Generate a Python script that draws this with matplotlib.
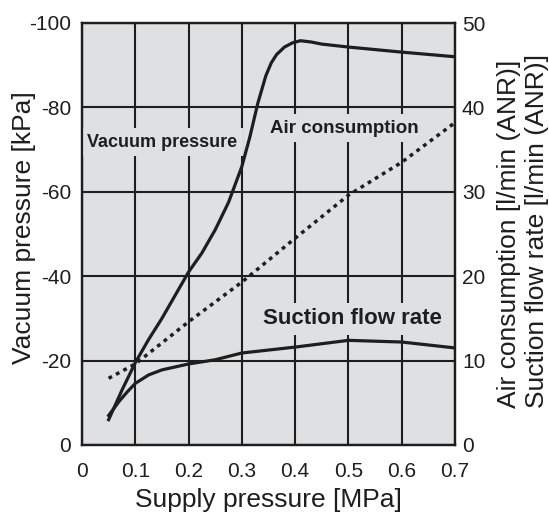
import matplotlib.pyplot as plt

# Supply pressure [MPa] and the three curves
vac_x = [0.05, 0.075, 0.1, 0.125, 0.15, 0.175, 0.2, 0.225, 0.25, 0.275, 0.3,
         0.315, 0.33, 0.345, 0.355, 0.365, 0.38, 0.395, 0.41, 0.43, 0.45, 0.5, 0.6, 0.7]
vac_y = [-6, -13, -19.5, -25, -30, -35.5, -41, -45.5, -51, -57.5, -66,
         -73, -81, -87.5, -90.5, -92.5, -94.3, -95.3, -95.8, -95.5, -95, -94.3, -93.1, -92]

air_x = [0.05, 0.1, 0.2, 0.3, 0.4, 0.5, 0.6, 0.7]
air_y = [7.9, 9.6, 14.6, 19.3, 24.5, 29.6, 33.5, 38.2]

suc_x = [0.05, 0.07, 0.085, 0.1, 0.125, 0.15, 0.2, 0.25, 0.3, 0.4, 0.5, 0.6, 0.7]
suc_y = [3.5, 5.2, 6.3, 7.3, 8.3, 8.9, 9.6, 10.1, 10.9, 11.6, 12.4, 12.2, 11.5]

x_ticks = [0, 0.1, 0.2, 0.3, 0.4, 0.5, 0.6, 0.7]
x_labels = ['0', '0.1', '0.2', '0.3', '0.4', '0.5', '0.6', '0.7']
left_ticks = [0, -20, -40, -60, -80, -100]
right_ticks = [0, 10, 20, 30, 40, 50]

bg = '#dfe0e2'
ink = '#1e1e1e'
plt.rcParams['font.family'] = ['Liberation Sans', 'DejaVu Sans']

fig = plt.figure(figsize=(5.49, 5.19), dpi=100)
ax = fig.add_axes([82 / 549, 1 - 445 / 519, 373 / 549, 422 / 519])
ax.set_facecolor(bg)
ax.set_xlim(0, 0.7)
ax.set_ylim(0, -100)
ax.set_xticks(x_ticks)
ax.set_xticklabels(x_labels)
ax.set_yticks(left_ticks)
ax.set_yticklabels([str(t) for t in left_ticks])
ax.set_axisbelow(True)
ax.grid(True, color=ink, linewidth=1.5)
ax.tick_params(axis='x', length=0, pad=12, labelsize=15, labelcolor=ink)
ax.tick_params(axis='y', length=0, pad=8, labelsize=15, labelcolor=ink)

ax2 = ax.twinx()
ax2.set_ylim(0, 50)
ax2.set_yticks(right_ticks)
ax2.tick_params(axis='y', length=0, pad=5, labelsize=15, labelcolor=ink)

for a in (ax, ax2):
    for s in a.spines.values():
        s.set_linewidth(1.6)
        s.set_color(ink)

ax.plot(vac_x, vac_y, color=ink, linewidth=2.3, zorder=5)
ax2.plot(air_x, air_y, color=ink, linewidth=2.5, linestyle=(0, (1.1, 1.3)), zorder=5)
ax2.plot(suc_x, suc_y, color=ink, linewidth=2.3, zorder=5)

box = dict(facecolor=bg, edgecolor='none', pad=4)
ax.text(0.151, -71.8, 'Vacuum pressure', fontweight='bold',
        fontsize=13, color=ink, ha='center', va='center', bbox=box, zorder=3)
ax.text(0.4925, -75.1, 'Air consumption', fontweight='bold',
        fontsize=13.5, color=ink, ha='center', va='center', bbox=box, zorder=3)
ax.text(0.508, -29.9, 'Suction flow rate', fontweight='bold',
        fontsize=16, color=ink, ha='center', va='center', bbox=box, zorder=3)

fig.text(24 / 549, 1 - 228 / 519, 'Vacuum pressure [kPa]', rotation=90,
         fontsize=19, color=ink, ha='center', va='center')
fig.text(268 / 549, 1 - 500 / 519, 'Supply pressure [MPa]',
         fontsize=19, color=ink, ha='center', va='center')
fig.text(509 / 549, 1 - 408 / 519, 'Air consumption [l/min (ANR)]', rotation=90,
         fontsize=19, color=ink, ha='center', va='bottom')
fig.text(537 / 549, 1 - 408 / 519, 'Suction flow rate [l/min (ANR)]', rotation=90,
         fontsize=19, color=ink, ha='center', va='bottom')

fig.savefig('out.png', dpi=100, facecolor='white')
